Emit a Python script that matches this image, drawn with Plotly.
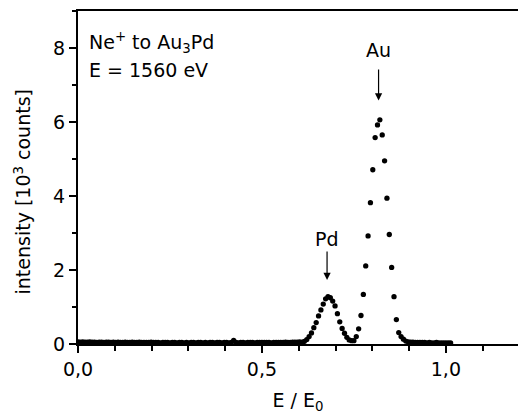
import plotly.graph_objects as go

# Primary beam energy (eV) and analyser channels (10 eV steps)
E0_EV = 1560
energy_ev = list(range(0, 1590, 10))

# Scattered-ion intensity per channel, in 10^3 counts
background = [
    0.06, 0.05, 0.06, 0.05, 0.05, 0.06, 0.05, 0.05, 0.04, 0.05,
    0.05, 0.04, 0.05, 0.05, 0.04, 0.05, 0.04, 0.05, 0.04, 0.04,
    0.05, 0.04, 0.04, 0.05, 0.04, 0.04, 0.05, 0.04, 0.04, 0.04,
    0.04, 0.05, 0.04, 0.04, 0.04, 0.03, 0.04, 0.04, 0.04, 0.03,
    0.04, 0.04, 0.03, 0.04, 0.04, 0.03, 0.04, 0.03, 0.04, 0.04,
    0.03, 0.04, 0.04, 0.03, 0.04, 0.03, 0.04, 0.04, 0.03, 0.04,
    0.04, 0.03, 0.04, 0.04, 0.03, 0.04, 0.10, 0.04, 0.03, 0.04,
    0.04, 0.03, 0.04, 0.04, 0.04, 0.03, 0.04, 0.04, 0.04, 0.04,
    0.04, 0.04, 0.03, 0.04, 0.04, 0.04, 0.04, 0.04, 0.05, 0.04,
    0.04, 0.05, 0.05, 0.05, 0.06,
]
pd_peak = [
    0.05, 0.07, 0.12, 0.20, 0.30, 0.44, 0.58, 0.76, 0.92, 1.08,
    1.22, 1.28, 1.25, 1.16, 1.03, 0.82, 0.60, 0.42, 0.29, 0.18,
    0.11, 0.09, 0.09, 0.20, 0.41,
]
au_peak = [
    0.77, 1.34, 2.11, 2.92, 3.82, 4.71, 5.58, 5.92, 6.06, 5.65,
    4.95, 3.94, 2.96, 2.07, 1.28, 0.66, 0.31, 0.20, 0.13, 0.08,
    0.06,
]
tail = [
    0.05, 0.05, 0.04, 0.04, 0.04, 0.04, 0.04, 0.03, 0.04, 0.03,
    0.03, 0.04, 0.03, 0.03, 0.03, 0.03, 0.03, 0.03,
]
intensity = background + pd_peak + au_peak + tail
assert len(intensity) == len(energy_ev)

e_ratio = [e / E0_EV for e in energy_ev]

FONT = "DejaVu Sans, Liberation Sans, Arial, sans-serif"
FSIZE = 19

fig = go.Figure()
fig.add_trace(go.Scatter(
    x=e_ratio, y=intensity, mode="markers",
    marker=dict(color="black", size=5.3, line=dict(width=0)),
    hoverinfo="skip", showlegend=False,
))

axis_common = dict(
    showgrid=False, zeroline=False, showline=True,
    linecolor="black", linewidth=2,
    ticks="outside", ticklen=7, tickwidth=1.5, tickcolor="black",
    tickfont=dict(family=FONT, size=FSIZE, color="black"),
)

fig.update_xaxes(
    **axis_common, range=[0, 1.196], dtick=0.5, tick0=0, tickformat=".1f",
    mirror=True,
    minor=dict(ticks="outside", dtick=0.1, ticklen=4.5, tickwidth=1.5, tickcolor="black"),
    title=dict(text="E / E<sub>0</sub>", font=dict(family=FONT, size=FSIZE, color="black"), standoff=16),
)
fig.update_yaxes(
    **axis_common, range=[0, 9], dtick=2, tick0=0,
    minor=dict(ticks="outside", dtick=1, ticklen=4.5, tickwidth=1.5, tickcolor="black"),
)

txt = dict(family=FONT, size=FSIZE, color="black")
annotations = [
    # y-axis title, placed by hand left of the tick labels
    dict(x=0, y=0.455, xref="paper", yref="paper", xshift=-55, textangle=-90,
         text="intensity [10<sup>3</sup> counts]", xanchor="center", yanchor="middle",
         showarrow=False, font=txt),
    dict(x=0.024, y=8.15, text="Ne<sup>+</sup> to Au<sub>3</sub>Pd", xanchor="left", yanchor="middle", showarrow=False, font=txt),
    dict(x=0.024, y=7.4, text="E = 1560 eV", xanchor="left", yanchor="middle", showarrow=False, font=txt),
    dict(x=0.817, y=7.95, text="Au", xanchor="center", yanchor="middle", showarrow=False, font=txt),
    dict(x=0.677, y=2.83, text="Pd", xanchor="center", yanchor="middle", showarrow=False, font=txt),
    dict(x=0.817, y=6.58, ax=0.817, ay=7.46, axref="x", ayref="y", text="", showarrow=True,
         arrowhead=2, arrowsize=1.2, arrowwidth=1.2, arrowcolor="black"),
    dict(x=0.677, y=1.73, ax=0.677, ay=2.54, axref="x", ayref="y", text="", showarrow=True,
         arrowhead=2, arrowsize=1.2, arrowwidth=1.2, arrowcolor="black"),
]

fig.update_layout(
    width=518, height=414,
    margin=dict(l=78, r=0, t=11, b=70),
    paper_bgcolor="white", plot_bgcolor="white",
    separators=",.",
    font=dict(family=FONT, size=FSIZE, color="black"),
    annotations=annotations,
)

fig.write_html("out.html")
